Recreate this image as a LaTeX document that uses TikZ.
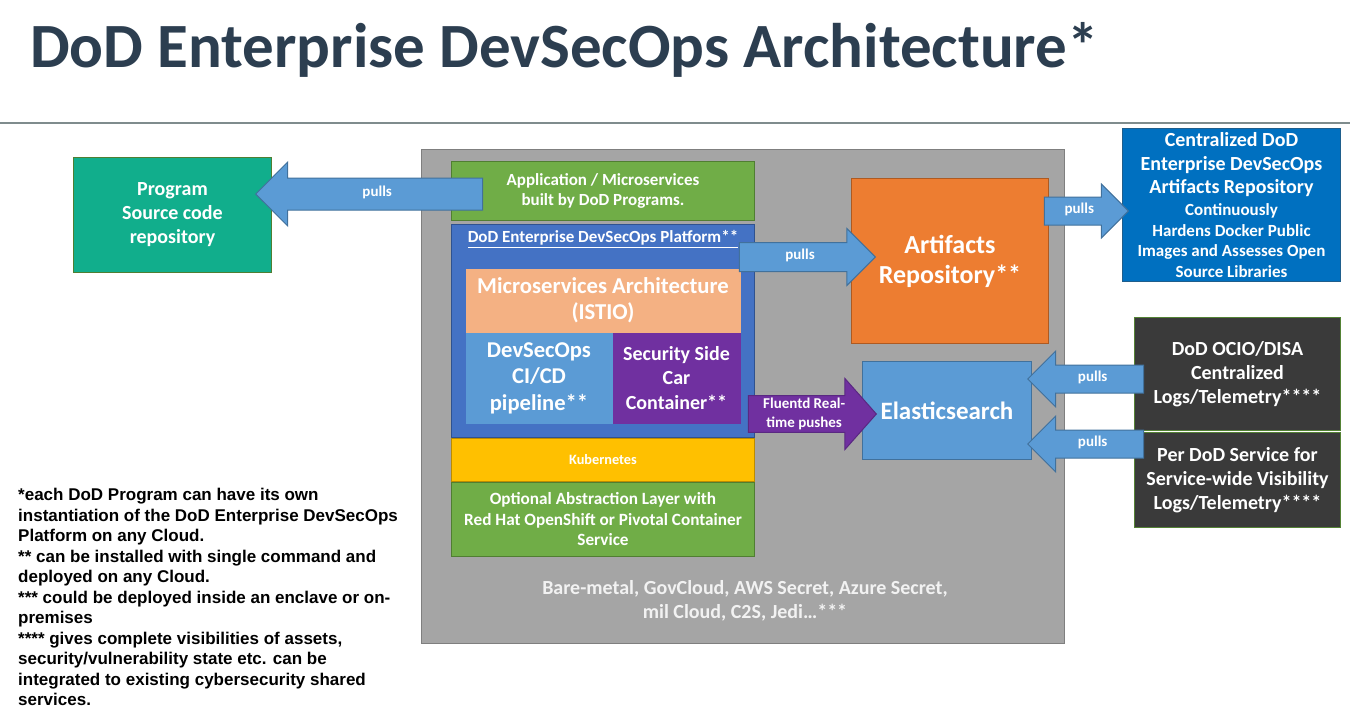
\documentclass[tikz,border=0pt]{standalone}
\usepackage{fontspec}
\setmainfont{Carlito}
\newfontfamily\notefont{Liberation Sans}
\usetikzlibrary{shapes.arrows}
\definecolor{Slate}{HTML}{2C3E50}
\definecolor{RuleGray}{HTML}{7F8C8D}
\definecolor{CloudGray}{HTML}{A5A5A5}
\definecolor{CloudEdge}{HTML}{7F7F7F}
\definecolor{CloudText}{HTML}{F2F2F2}
\definecolor{SrcTeal}{HTML}{11AE8C}
\definecolor{LeafGreen}{HTML}{70AD47}
\definecolor{GreenEdge}{HTML}{507E32}
\definecolor{PlatBlue}{HTML}{4472C4}
\definecolor{PlatEdge}{HTML}{2F528F}
\definecolor{Peach}{HTML}{F4B183}
\definecolor{Plum}{HTML}{7030A0}
\definecolor{PlumEdge}{HTML}{5A2882}
\definecolor{Amber}{HTML}{FFC000}
\definecolor{AmberEdge}{HTML}{BC8C00}
\definecolor{Tangerine}{HTML}{ED7D31}
\definecolor{TangerineEdge}{HTML}{AE5A21}
\definecolor{Cobalt}{HTML}{0070C0}
\definecolor{CobaltEdge}{HTML}{1F5E8C}
\definecolor{ArrowBlue}{HTML}{5B9BD5}
\definecolor{ArrowEdge}{HTML}{41719C}
\definecolor{DarkBox}{HTML}{3A3A3A}
\definecolor{DarkEdge}{HTML}{548235}

\begin{document}
\begin{tikzpicture}[x=1pt,y=-1pt,
    blk/.style={draw,line width=1pt,inner sep=0pt,align=center,text=white,anchor=north west},
    barrow/.style={single arrow,draw=ArrowEdge,fill=ArrowBlue,line width=1pt,text=white,
                   font=\fontsize{15}{17}\selectfont\bfseries,inner xsep=0pt,
                   text height=7pt,text depth=2pt,single arrow head indent=0pt,anchor=tip}
  ]
    \useasboundingbox (0,0) rectangle (1350,723);
    \node[anchor=base west,inner sep=0pt,text=Slate,font=\fontsize{63}{63}\selectfont\bfseries] (title) at (30,67) {DoD Enterprise DevSecOps Architecture*};
    \draw[RuleGray,line width=1.2pt] (0,123) -- (1350,123);

    \node[blk,draw=CloudEdge,fill=CloudGray,minimum width=643pt,minimum height=494pt] (cloud) at (421,149) {};
    \node[text=CloudText,align=center,font=\fontsize{20}{24}\selectfont\bfseries] (cloudtxt) at (745,601) {Bare-metal, GovCloud, AWS Secret, Azure Secret,\\mil Cloud, C2S, Jedi…***};

    \node[blk,draw=GreenEdge,fill=SrcTeal,minimum width=198pt,minimum height=115pt,font=\fontsize{20}{24}\selectfont\bfseries] (src) at (73,157) {Program\\Source code\\repository};

    \node[blk,draw=GreenEdge,fill=LeafGreen,minimum width=303pt,minimum height=59pt,font=\fontsize{17}{20}\selectfont\bfseries] (app) at (451,161) {Application / Microservices\\built by DoD Programs.};
    \node[blk,draw=PlatEdge,fill=PlatBlue,minimum width=303pt,minimum height=213pt] (plat) at (451,224) {};
    \node[text=white,font=\fontsize{17}{19}\selectfont\bfseries] (plattitle) at (603,239) {\underline{DoD Enterprise DevSecOps Platform**}};
    \node[blk,draw=none,fill=Peach,minimum width=275pt,minimum height=64pt,font=\fontsize{22.7}{26}\selectfont\bfseries] (istio) at (465,268) {Microservices Architecture\\(ISTIO)};
    \node[blk,draw=none,fill=ArrowBlue,minimum width=147pt,minimum height=91pt,font=\fontsize{22.6}{26.5}\selectfont\bfseries] (cicd) at (465,332) {DevSecOps\\CI/CD\\pipeline**};
    \node[blk,draw=none,fill=Plum,minimum width=128pt,minimum height=91pt,font=\fontsize{20}{24.5}\selectfont\bfseries] (sidecar) at (612,332) {Security Side\\Car\\Container**};
    \node[blk,draw=AmberEdge,fill=Amber,minimum width=303pt,minimum height=43pt,font=\fontsize{14.3}{16}\selectfont\bfseries] (k8s) at (451,438) {Kubernetes};
    \node[blk,draw=GreenEdge,fill=LeafGreen,minimum width=303pt,minimum height=74pt,font=\fontsize{17.2}{20.5}\selectfont\bfseries] (opt) at (451,482) {Optional Abstraction Layer with\\Red Hat OpenShift or Pivotal Container\\Service};

    \node[blk,draw=TangerineEdge,fill=Tangerine,minimum width=197pt,minimum height=165pt,font=\fontsize{26}{30}\selectfont\bfseries] (art) at (851,178) {Artifacts\\Repository**};
    \node[blk,draw=CobaltEdge,fill=Cobalt,minimum width=218pt,minimum height=153pt,font=\fontsize{17}{20.5}\selectfont\bfseries] (central) at (1122,128)
      {\fontsize{20}{23.5}\selectfont Centralized DoD\\[3pt]\fontsize{20}{23.5}\selectfont Enterprise DevSecOps\\[3pt]\fontsize{20}{23.5}\selectfont Artifacts Repository\\[1.5pt]
       Continuously\\Hardens Docker Public\\Images and Assesses Open\\Source Libraries};
    \node[blk,draw=ArrowEdge,fill=ArrowBlue,minimum width=169pt,minimum height=98pt,font=\fontsize{25}{28}\selectfont\bfseries] (es) at (862,361) {Elasticsearch};
    \node[blk,draw=DarkEdge,fill=DarkBox,minimum width=206pt,minimum height=113pt,font=\fontsize{20}{24}\selectfont\bfseries] (ocio) at (1134,317) {DoD OCIO/DISA\\Centralized\\Logs/Telemetry****};
    \node[blk,draw=DarkEdge,fill=DarkBox,minimum width=206pt,minimum height=95pt,font=\fontsize{20}{24}\selectfont\bfseries] (persvc) at (1134,432) {Per DoD Service for\\Service-wide Visibility\\Logs/Telemetry****};

    \node[barrow,shape border rotate=180,minimum height=227pt,inner ysep=11pt,single arrow head extend=16pt] (pullsrc) at (255,194) {pulls};
    \node[barrow,minimum height=136pt,inner ysep=9.5pt,single arrow head extend=14pt] (pullart) at (876,257) {pulls};
    \node[barrow,minimum height=84pt,inner ysep=9pt,single arrow head extend=13pt] (pullcen) at (1129,211) {pulls};
    \node[barrow,shape border rotate=180,minimum height=116pt,inner ysep=9pt,single arrow head extend=14pt] (pullocio) at (1027,379) {pulls};
    \node[barrow,shape border rotate=180,minimum height=116pt,inner ysep=9pt,single arrow head extend=14pt] (pullsvc) at (1027,444) {pulls};
    \node[barrow,draw=PlumEdge,fill=Plum,align=center,font=\fontsize{15}{19}\selectfont\bfseries,text height={},text depth={},
          minimum height=128pt,inner ysep=2pt,single arrow head extend=17pt,single arrow tip angle=97] (fluent) at (877,414) {Fluentd Real-\\time pushes};

    \node[anchor=north west,inner sep=0pt,align=left,font=\notefont\bfseries\fontsize{17}{20.5}\selectfont] (notes) at (18,488)
      {*each DoD Program can have its own\\instantiation of the DoD Enterprise DevSecOps\\Platform on any Cloud.\\
       ** can be installed with single command and\\deployed on any Cloud.\\
       *** could be deployed inside an enclave or on-\\premises\\
       **** gives complete visibilities of assets,\\security/vulnerability state etc. can be\\integrated to existing cybersecurity shared\\services.};
  \end{tikzpicture}
\end{document}
